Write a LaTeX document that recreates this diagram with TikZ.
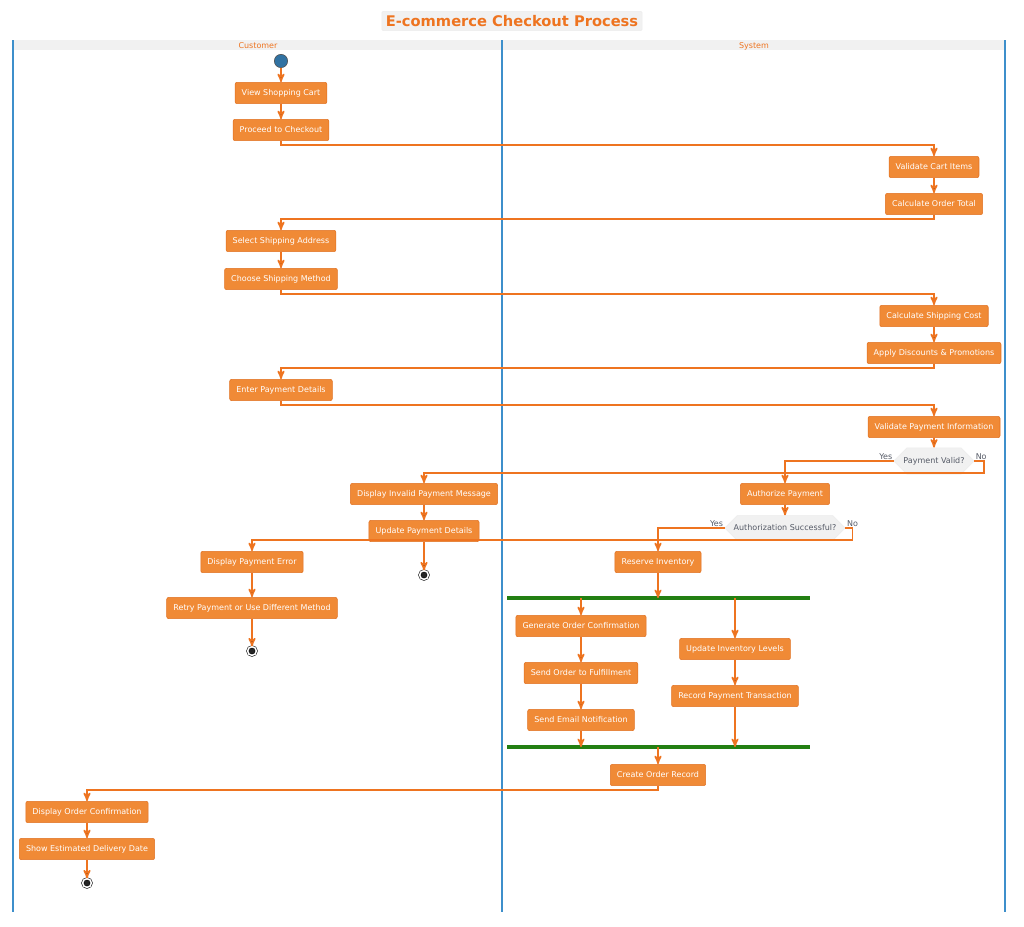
\documentclass[tikz,border=0pt]{standalone}
\usepackage{fontspec}
\setmainfont{DejaVu Sans}
\usetikzlibrary{positioning}
\usetikzlibrary{arrows}
\usetikzlibrary{shapes.misc}
\definecolor{orng}{HTML}{F08A36}
\definecolor{orngline}{HTML}{EE7420}
\definecolor{orngdark}{HTML}{E07020}
\definecolor{lane}{HTML}{3D8FCB}
\definecolor{bar}{HTML}{237F12}
\definecolor{pale}{HTML}{F1F1F1}
\definecolor{grytxt}{HTML}{555A66}

\begin{document}
\begin{tikzpicture}[x=0.75pt,y=-0.75pt,>=stealth',
                    act/.style={rectangle,rounded corners=1.5pt,draw=orngdark,fill=orng,text=white,
                      font=\fontsize{6}{7}\selectfont,minimum height=16pt,inner xsep=5pt},
                    dec/.style={chamfered rectangle,chamfered rectangle xsep=6pt,draw=white!85!gray,fill=pale,
                      text=grytxt,font=\fontsize{6}{7}\selectfont,minimum height=13pt,inner xsep=1pt},
                    flow/.style={->,draw=orngline,line width=1.2pt},
                    lbl/.style={text=grytxt,font=\fontsize{6}{7}\selectfont,inner sep=1pt},
                    start/.style={circle,draw=black!70,fill=lane!80!black,minimum size=10pt,inner sep=0pt},
                    stop/.style={circle,draw=black,double=white,double distance=1.2pt,fill=black!85,minimum size=6.5pt,inner sep=0pt},
                    fork/.style={draw=bar,line width=3pt}]
\useasboundingbox (0,0) rectangle (1024,926);

% lanes
\fill[pale] (13,40) rectangle (1005,50);
\draw[lane,line width=1pt] (13,40) -- (13,912) (502,40) -- (502,912) (1005,40) -- (1005,912);
\node[text=orngline,font=\fontsize{6}{7}\selectfont] at (258,46) {Customer};
\node[text=orngline,font=\fontsize{6}{7}\selectfont] at (754,46) {System};
\node[draw=white!85!gray,fill=pale,rounded corners=1pt,text=orngline,
      font=\fontsize{11}{13}\bfseries,inner sep=3pt] (title) at (512,21) {E-commerce Checkout Process};

% nodes
\node[start] (s) at (281,61) {};
\node[act] (view) at (281,93) {View Shopping Cart};
\node[act] (proc) at (281,130) {Proceed to Checkout};
\node[act] (vcart) at (934,167) {Validate Cart Items};
\node[act] (ctot) at (934,204) {Calculate Order Total};
\node[act] (addr) at (281,241) {Select Shipping Address};
\node[act] (meth) at (281,279) {Choose Shipping Method};
\node[act] (cship) at (934,316) {Calculate Shipping Cost};
\node[act] (disc) at (934,353) {Apply Discounts \& Promotions};
\node[act] (pay) at (281,390) {Enter Payment Details};
\node[act] (vpay) at (934,427) {Validate Payment Information};
\node[dec] (pvalid) at (934,461) {Payment Valid?};
\node[act] (inval) at (424,494) {Display Invalid Payment Message};
\node[act] (auth) at (785,494) {Authorize Payment};
\node[act] (upd) at (424,531) {Update Payment Details};
\node[dec] (aok) at (785,528) {Authorization Successful?};
\node[stop] (e1) at (424,575) {};
\node[act] (perr) at (252,562) {Display Payment Error};
\node[act] (retry) at (252,608) {Retry Payment or Use Different Method};
\node[stop] (e2) at (252,651) {};
\node[act] (res) at (658,562) {Reserve Inventory};
\coordinate (f1) at (507,598);
\coordinate (f2) at (810,598);
\node[act] (gen) at (581,626) {Generate Order Confirmation};
\node[act] (send) at (581,673) {Send Order to Fulfillment};
\node[act] (mail) at (581,720) {Send Email Notification};
\node[act] (inv) at (735,649) {Update Inventory Levels};
\node[act] (rec) at (735,696) {Record Payment Transaction};
\coordinate (j1) at (507,747);
\coordinate (j2) at (810,747);
\node[act] (crt) at (658,775) {Create Order Record};
\node[act] (dconf) at (87,812) {Display Order Confirmation};
\node[act] (deliv) at (87,849) {Show Estimated Delivery Date};
\node[stop] (e3) at (87,883) {};

% flows
\path[flow]
  (s) edge (view)
  (view) edge (proc)
  (vcart) edge (ctot)
  (addr) edge (meth)
  (cship) edge (disc)
  (vpay) edge (pvalid)
  (inval) edge (upd)
  (upd) edge (e1)
  (auth) edge (aok)
  (perr) edge (retry)
  (retry) edge (e2)
  (gen) edge (send)
  (send) edge (mail)
  (inv) edge (rec)
  (dconf) edge (deliv)
  (deliv) edge (e3);
\draw[flow] (proc.south) -- ++(0,4) -| (vcart.north);
\draw[flow] (ctot.south) -- ++(0,4) -| (addr.north);
\draw[flow] (meth.south) -- ++(0,4) -| (cship.north);
\draw[flow] (disc.south) -- ++(0,4) -| (pay.north);
\draw[flow] (pay.south) -- ++(0,4) -| (vpay.north);
\draw[flow] (pvalid.west) -| (auth.north);
\draw[flow] (pvalid.east) -- ++(10,0) -- ++(0,12) -| (inval.north);
\draw[flow] (aok.west) -| (res.north);
\draw[flow] (aok.east) -- ++(7,0) -- ++(0,12) -| (perr.north);
\node[lbl,anchor=south east] at (pvalid.west) {Yes};
\node[lbl,anchor=south west] at (pvalid.east) {No};
\node[lbl,anchor=south east] at (aok.west) {Yes};
\node[lbl,anchor=south west] at (aok.east) {No};

% fork / join
\draw[fork] (f1) -- (f2);
\draw[fork] (j1) -- (j2);
\draw[flow] (res.south) -- (res.south |- f1);
\draw[flow] (gen.north |- f1) -- (gen.north);
\draw[flow] (inv.north |- f1) -- (inv.north);
\draw[flow] (mail.south) -- (mail.south |- j1);
\draw[flow] (rec.south) -- (rec.south |- j1);
\draw[flow] (crt.north |- j1) -- (crt.north);
\draw[flow] (crt.south) -- ++(0,4) -| (dconf.north);
\end{tikzpicture}
\end{document}
